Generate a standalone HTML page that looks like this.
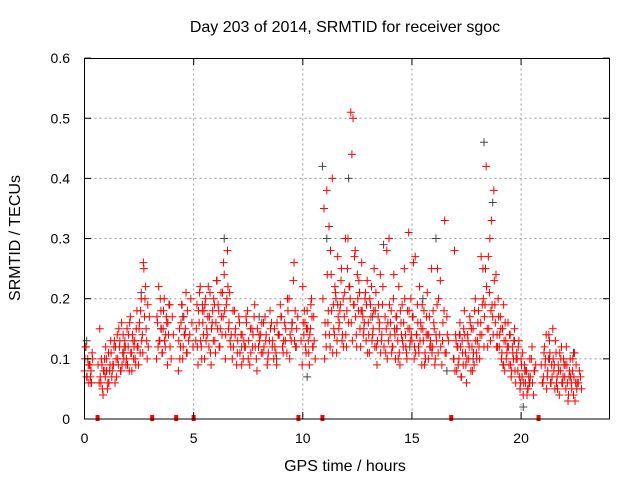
<!DOCTYPE html>
<html><head><meta charset="utf-8"><style>
body{margin:0;background:#fff}
svg text{font-family:"Liberation Sans",sans-serif;fill:#000}
</style></head><body>
<svg id="chart" width="640" height="480" xmlns="http://www.w3.org/2000/svg">
<text x="345" y="32" font-size="16" text-anchor="middle">Day 203 of 2014, SRMTID for receiver sgoc</text>
<text x="345" y="471" font-size="16" text-anchor="middle">GPS time / hours</text>
<text x="0" y="0" font-size="16" text-anchor="middle" transform="translate(20,238) rotate(-90)">SRMTID / TECUs</text>
<g id="grid"></g>
<g id="gray"></g>
<g id="red"></g>
<g id="gaps"></g>
<rect x="84.5" y="58.5" width="525" height="360.5" fill="none" stroke="#000" stroke-width="1"/>
<g id="ticks"></g>
</svg>
<script>
const xTicks=[0,5,10,15,20];
const yTicks=[0,0.1,0.2,0.3,0.4,0.5,0.6];
const yTickLabels=["0","0.1","0.2","0.3","0.4","0.5","0.6"];
const gapTimes=[0.6,3.1,4.2,5.0,9.8,10.9,16.8,20.8];
const redTimes=[0.0,0.05,0.1,0.15,0.2,0.25,0.3,0.35,0.7,0.75,0.8,0.85,0.9,0.95,1.0,1.05,1.1,1.15,1.2,1.25,1.3,1.35,1.4,1.45,1.5,1.55,1.6,1.65,1.7,1.75,1.8,1.85,1.9,1.95,2.0,2.05,2.1,2.15,2.2,2.25,2.3,2.35,2.4,2.45,2.5,2.55,2.6,2.65,2.7,2.75,2.8,2.85,2.9,3.3,3.35,3.4,3.45,3.5,3.55,3.6,3.65,3.7,3.75,3.8,3.85,3.9,4.3,4.35,4.4,4.45,4.5,4.55,4.6,4.65,4.7,5.1,5.15,5.2,5.25,5.3,5.35,5.4,5.45,5.5,5.55,5.6,5.65,5.7,5.75,5.8,5.85,5.9,5.95,6.0,6.05,6.1,6.15,6.2,6.25,6.3,6.35,6.4,6.45,6.5,6.55,6.6,6.65,6.7,6.8,6.9,7.0,7.1,7.2,7.3,7.4,7.5,7.6,7.7,7.8,7.9,8.0,8.1,8.2,8.3,8.4,8.5,8.6,8.7,8.8,8.9,9.0,9.1,9.2,9.3,9.4,9.5,9.6,9.65,9.7,10.0,10.05,10.1,10.15,10.2,10.25,10.3,10.35,10.4,10.45,10.5,11.0,11.05,11.1,11.15,11.2,11.25,11.3,11.35,11.4,11.45,11.5,11.55,11.6,11.65,11.7,11.75,11.8,11.85,11.9,11.95,12.0,12.05,12.1,12.15,12.2,12.25,12.3,12.35,12.4,12.45,12.5,12.55,12.6,12.65,12.7,12.75,12.8,12.85,12.9,12.95,13.0,13.05,13.1,13.15,13.2,13.25,13.3,13.35,13.4,13.45,13.5,13.55,13.6,13.65,13.8,13.85,13.9,13.95,14.0,14.05,14.1,14.15,14.2,14.25,14.3,14.35,14.4,14.45,14.5,14.55,14.6,14.65,14.7,14.75,14.8,14.85,14.9,14.95,15.0,15.05,15.1,15.15,15.2,15.25,15.3,15.35,15.4,15.45,15.5,15.55,15.6,15.65,15.7,15.75,15.8,15.85,15.9,15.95,16.0,16.05,16.1,16.15,16.2,16.3,16.4,16.5,16.6,16.9,16.95,17.0,17.05,17.1,17.15,17.2,17.25,17.3,17.35,17.4,17.45,17.5,17.55,17.6,17.65,17.7,17.75,17.8,17.85,17.9,17.95,18.0,18.05,18.1,18.15,18.2,18.25,18.3,18.35,18.4,18.45,18.5,18.55,18.6,18.65,18.7,18.75,18.8,18.85,18.9,18.95,19.0,19.05,19.1,19.15,19.2,19.25,19.3,19.35,19.4,19.45,19.5,19.55,19.6,19.65,19.7,19.75,19.8,19.85,19.9,19.95,20.0,20.05,20.1,20.15,20.2,20.25,20.3,20.35,20.4,20.5,20.6,21.0,21.05,21.1,21.15,21.2,21.25,21.3,21.35,21.4,21.45,21.5,21.55,21.6,21.65,21.7,21.75,21.8,21.85,21.9,21.95,22.0,22.05,22.1,22.15,22.2,22.25,22.3,22.35,22.4,22.45,22.5,22.55,22.6,22.65,22.7];
const redValues=[0.08,0.12,0.07,0.10,0.06,0.09,0.08,0.11,0.15,0.06,0.09,0.04,0.08,0.07,0.10,0.05,0.11,0.08,0.13,0.07,0.09,0.12,0.06,0.10,0.14,0.09,0.12,0.08,0.16,0.11,0.10,0.13,0.09,0.15,0.12,0.08,0.17,0.11,0.14,0.10,0.13,0.09,0.18,0.12,0.15,0.11,0.20,0.14,0.26,0.17,0.22,0.13,0.19,0.10,0.16,0.22,0.13,0.18,0.11,0.15,0.20,0.12,0.17,0.09,0.14,0.19,0.08,0.15,0.12,0.19,0.10,0.17,0.14,0.21,0.11,0.13,0.19,0.09,0.16,0.22,0.12,0.18,0.14,0.10,0.20,0.15,0.17,0.12,0.21,0.09,0.16,0.13,0.19,0.11,0.23,0.15,0.18,0.12,0.21,0.14,0.17,0.24,0.10,0.19,0.28,0.15,0.21,0.12,0.18,0.14,0.11,0.16,0.09,0.13,0.17,0.10,0.15,0.12,0.19,0.08,0.14,0.11,0.16,0.13,0.10,0.18,0.12,0.15,0.09,0.14,0.17,0.11,0.13,0.20,0.10,0.15,0.26,0.18,0.12,0.22,0.14,0.16,0.11,0.18,0.13,0.09,0.15,0.20,0.12,0.17,0.10,0.14,0.38,0.16,0.32,0.12,0.24,0.40,0.19,0.14,0.21,0.11,0.27,0.15,0.18,0.23,0.13,0.20,0.17,0.30,0.12,0.25,0.16,0.22,0.51,0.44,0.50,0.19,0.28,0.14,0.24,0.18,0.21,0.12,0.26,0.17,0.15,0.20,0.13,0.23,0.16,0.11,0.19,0.22,0.14,0.18,0.12,0.21,0.09,0.17,0.15,0.24,0.13,0.19,0.11,0.28,0.16,0.30,0.14,0.18,0.12,0.20,0.15,0.10,0.17,0.13,0.22,0.09,0.16,0.19,0.12,0.25,0.14,0.11,0.18,0.31,0.15,0.20,0.13,0.17,0.10,0.27,0.14,0.19,0.12,0.22,0.16,0.09,0.15,0.18,0.11,0.14,0.21,0.10,0.17,0.13,0.25,0.12,0.16,0.09,0.14,0.19,0.11,0.23,0.13,0.33,0.17,0.10,0.28,0.14,0.08,0.12,0.10,0.16,0.07,0.13,0.09,0.18,0.11,0.06,0.14,0.10,0.17,0.08,0.12,0.15,0.09,0.20,0.11,0.13,0.18,0.10,0.16,0.14,0.25,0.12,0.19,0.42,0.15,0.27,0.21,0.13,0.33,0.17,0.38,0.19,0.24,0.14,0.20,0.12,0.17,0.10,0.15,0.19,0.08,0.13,0.11,0.16,0.09,0.14,0.07,0.12,0.10,0.15,0.06,0.11,0.08,0.13,0.05,0.10,0.07,0.04,0.09,0.06,0.08,0.05,0.07,0.10,0.12,0.08,0.06,0.11,0.09,0.14,0.07,0.10,0.13,0.06,0.09,0.15,0.08,0.05,0.11,0.07,0.09,0.04,0.08,0.12,0.06,0.10,0.07,0.05,0.09,0.03,0.07,0.10,0.06,0.08,0.04,0.11,0.06,0.05];
const redTimes2=[0.02,0.12,0.22,0.32,
0.62,0.72,0.82,0.92,1.02,1.12,1.22,1.32,1.42,1.52,1.62,1.72,1.82,1.92,2.02,2.12,2.22,2.32,2.42,2.52,2.62,2.72,2.82,2.92,
3.32,3.42,3.52,3.62,3.72,3.82,3.92,4.02,
4.32,4.42,4.52,4.62,4.72,4.82,4.92,
5.12,5.22,5.32,5.42,5.52,5.62,5.72,5.82,5.92,6.02,6.12,6.22,6.32,6.42,6.52,6.62,6.72,6.82,6.92,7.02,7.12,7.22,7.32,7.42,7.52,7.62,7.72,7.82,7.92,8.02,8.12,8.22,8.32,8.42,8.52,8.62,8.72,8.82,8.92,9.02,9.12,9.22,9.32,9.42,9.52,9.62,9.72,
9.92,10.02,10.12,10.22,10.32,10.42,10.52,
10.92,11.02,11.12,11.22,11.32,11.42,11.52,11.62,11.72,11.82,11.92,12.02,12.12,12.22,12.32,12.42,12.52,12.62,12.72,12.82,12.92,13.02,13.12,13.22,13.32,13.42,13.52,13.62,13.72,13.82,13.92,14.02,14.12,14.22,14.32,14.42,14.52,14.62,14.72,14.82,14.92,15.02,15.12,15.22,15.32,15.42,15.52,15.62,15.72,15.82,15.92,16.02,16.12,16.22,16.32,16.42,16.52,16.62,
16.92,17.02,17.12,17.22,17.32,17.42,17.52,17.62,17.72,17.82,17.92,18.02,18.12,18.22,18.32,18.42,18.52,18.62,18.72,18.82,18.92,19.02,19.12,19.22,19.32,19.42,19.52,19.62,19.72,19.82,19.92,20.02,20.12,20.22,20.32,20.42,20.52,20.62,
20.92,21.02,21.12,21.22,21.32,21.42,21.52,21.62,21.72,21.82,21.92,22.02,22.12,22.22,22.32,22.42,22.52,22.62,22.72];
const redValues2=[0.10,0.07,0.09,0.06,
0.09,0.07,0.05,0.10,0.08,0.06,0.11,0.09,0.12,0.10,0.13,0.09,0.12,0.10,0.14,0.11,0.13,0.10,0.12,0.16,0.13,0.25,0.15,0.12,
0.17,0.13,0.15,0.18,0.14,0.16,0.12,0.17,
0.13,0.16,0.12,0.15,0.18,0.14,0.16,
0.15,0.18,0.13,0.16,0.19,0.14,0.17,0.15,0.20,0.16,0.19,0.15,0.21,0.18,0.20,0.16,0.14,0.12,0.15,0.13,0.11,0.14,0.12,0.16,0.13,0.11,0.14,0.12,0.15,0.13,0.16,0.12,0.14,0.11,0.15,0.13,0.12,0.16,0.14,0.17,0.13,0.15,0.18,0.14,0.16,0.13,0.15,
0.13,0.16,0.12,0.15,0.14,0.17,0.13,
0.20,0.16,0.24,0.14,0.18,0.15,0.20,0.17,0.19,0.14,0.21,0.18,0.22,0.16,0.19,0.17,0.20,0.15,0.18,0.16,0.19,0.14,0.17,0.15,0.18,0.13,0.16,0.14,0.12,0.15,0.13,0.16,0.12,0.14,0.15,0.11,0.14,0.16,0.12,0.15,0.13,0.17,0.12,0.14,0.11,0.15,0.13,0.10,0.14,0.12,0.11,0.15,0.13,0.20,0.12,0.16,0.11,0.14,
0.10,0.13,0.09,0.12,0.11,0.14,0.10,0.12,0.15,0.11,0.13,0.16,0.14,0.19,0.17,0.22,0.15,0.18,0.14,0.16,0.12,0.14,0.11,0.13,0.10,0.12,0.09,0.11,0.08,0.10,0.07,0.09,0.06,0.08,0.05,0.07,0.06,0.08,
0.09,0.07,0.10,0.08,0.11,0.07,0.09,0.06,0.08,0.10,0.07,0.09,0.06,0.08,0.05,0.07,0.09,0.06,0.07];
const redValues3=[0.12,0.09,0.07,0.10,
0.06,0.10,0.08,0.12,0.06,0.09,0.08,0.13,0.07,0.15,0.08,0.14,0.12,0.09,0.16,0.08,0.12,0.15,0.09,0.18,0.11,0.20,0.10,0.17,
0.12,0.20,0.11,0.13,0.16,0.19,0.10,0.14,
0.10,0.19,0.14,0.11,0.13,0.20,0.12,
0.12,0.21,0.10,0.18,0.13,0.22,0.11,0.18,0.13,0.23,0.12,0.17,0.26,0.14,0.22,0.13,0.10,0.18,0.09,0.17,0.14,0.10,0.12,0.18,0.09,0.15,0.17,0.10,0.12,0.14,0.11,0.17,0.09,0.13,0.16,0.10,0.11,0.14,0.19,0.12,0.16,0.11,0.20,0.13,0.23,0.12,0.17,
0.09,0.18,0.15,0.11,0.19,0.12,0.10,
0.35,0.12,0.18,0.28,0.11,0.22,0.13,0.16,0.25,0.12,0.14,0.30,0.20,0.13,0.27,0.12,0.23,0.18,0.14,0.21,0.11,0.20,0.13,0.25,0.12,0.19,0.11,0.22,0.17,0.10,0.19,0.11,0.24,0.17,0.10,0.18,0.13,0.20,0.10,0.18,0.14,0.26,0.11,0.16,0.13,0.19,0.09,0.17,0.14,0.12,0.18,0.10,0.25,0.14,0.09,0.18,0.11,0.13,
0.08,0.12,0.14,0.07,0.15,0.09,0.13,0.16,0.08,0.18,0.10,0.12,0.27,0.20,0.25,0.12,0.30,0.19,0.23,0.12,0.17,0.15,0.09,0.16,0.12,0.14,0.08,0.13,0.10,0.12,0.06,0.11,0.08,0.04,0.06,0.10,0.04,0.09,
0.06,0.12,0.05,0.14,0.06,0.10,0.13,0.05,0.11,0.06,0.09,0.12,0.04,0.07,0.10,0.03,0.06,0.08,0.05];
const grayTimes=[0.1,0.3,1.0,1.8,2.6,3.5,4.5,5.4,6.4,7.2,8.0,8.8,9.5,10.2,10.9,11.1,11.6,12.1,12.6,13.2,13.7,14.3,14.9,15.5,16.1,16.6,17.2,17.8,18.3,18.7,19.2,19.7,20.1,20.4,21.3,21.9,22.4];
const grayValues=[0.13,0.06,0.08,0.11,0.21,0.15,0.17,0.19,0.30,0.12,0.17,0.10,0.16,0.07,0.42,0.30,0.19,0.40,0.21,0.17,0.29,0.15,0.12,0.20,0.30,0.08,0.14,0.10,0.46,0.36,0.09,0.13,0.02,0.06,0.10,0.06,0.11];
const NS="http://www.w3.org/2000/svg";
const x=h=>84.5+h*525/24.05;
const y=v=>419-v*601.5;
function mk(t,a,p){const e=document.createElementNS(NS,t);for(const k in a)e.setAttribute(k,a[k]);p.appendChild(e);return e;}
const grid=document.getElementById('grid'),ticks=document.getElementById('ticks');
yTicks.forEach((v,i)=>{
 if(v>0&&v<0.6){const g=mk('line',{x1:84.5,x2:609.5,y1:y(v),y2:y(v),stroke:'#999','stroke-dasharray':'2,3'},grid);
 
 }
 const t=mk('text',{x:70,y:y(v)+5,'font-size':14,'text-anchor':'end'},ticks);t.textContent=yTickLabels[i];
 
 
 mk('line',{x1:84.5,x2:91,y1:y(v),y2:y(v),stroke:'#000'},ticks);
 mk('line',{x1:603,x2:609.5,y1:y(v),y2:y(v),stroke:'#000'},ticks);
});
xTicks.forEach(h=>{
 if(h>0){const g=mk('line',{x1:x(h),x2:x(h),y1:58.5,y2:419,stroke:'#999','stroke-dasharray':'2,3'},grid);
 
 }
 const t=mk('text',{x:x(h),y:443,'font-size':14,'text-anchor':'middle'},ticks);t.textContent=String(h);
 
 
 mk('line',{x1:x(h),x2:x(h),y1:419,y2:412,stroke:'#000'},ticks);
 mk('line',{x1:x(h),x2:x(h),y1:58.5,y2:65,stroke:'#000'},ticks);
});
function plus(g,px,py,c){mk('path',{d:`M${px-4} ${py}H${px+4}M${px} ${py-4}V${py+4}`,stroke:c,'stroke-width':1},g);}
const gg=document.getElementById('gray');
grayTimes.forEach((t,i)=>plus(gg,x(t),y(grayValues[i]),'#444'));
const rg=document.getElementById('red');
redTimes.forEach((t,i)=>plus(rg,x(t),y(redValues[i]),'#f00'));
redTimes2.forEach((t,i)=>{if(i<redValues2.length)plus(rg,x(t),y(redValues2[i]),'#f00');});
redTimes2.forEach((t,i)=>{if(i<redValues3.length)plus(rg,x(t+0.05),y(redValues3[i]),'#f00');});
const gp=document.getElementById('gaps');
gapTimes.forEach(t=>{const r=mk('rect',{x:x(t)-2,y:415,width:4,height:6,fill:'#f00'},gp);
 
 });
</script>
</body></html>
